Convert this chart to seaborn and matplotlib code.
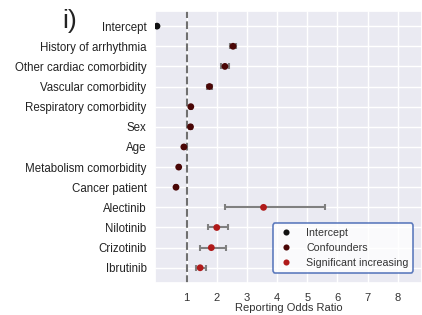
import matplotlib
matplotlib.use("Agg")
import matplotlib.pyplot as plt
import seaborn as sns
import pandas as pd
import numpy as np

categories = ["Intercept", "History of arrhythmia", "Other cardiac comorbidity",
              "Vascular comorbidity", "Respiratory comorbidity", "Sex", "Age",
              "Metabolism comorbidity", "Cancer patient", "Alectinib", "Nilotinib",
              "Crizotinib", "Ibrutinib"]
ror = [0.02, 2.54, 2.27, 1.76, 1.14, 1.13, 0.91, 0.74, 0.65, 3.55, 2.00, 1.82, 1.45]
ci_low = [0.01, 2.43, 2.15, 1.68, 1.10, 1.09, 0.88, 0.71, 0.62, 2.26, 1.70, 1.45, 1.30]
ci_high = [0.03, 2.65, 2.40, 1.84, 1.18, 1.17, 0.94, 0.77, 0.68, 5.60, 2.36, 2.30, 1.65]
groups = ["Intercept"] + ["Confounders"] * 8 + ["Significant increasing"] * 4
xticks = [1, 2, 3, 4, 5, 6, 7, 8]

df = pd.DataFrame({"cat": categories, "ror": ror, "lo": ci_low, "hi": ci_high, "group": groups})

sns.set_theme(style="darkgrid")
plt.rcParams["font.family"] = ["Liberation Sans", "DejaVu Sans"]

fig = plt.figure(figsize=(4.22, 3.15), dpi=100)
ax = fig.add_axes([0.367, 0.102, 0.633, 0.863])

ypos = np.arange(len(categories))
ax.errorbar(df["ror"], ypos,
            xerr=[df["ror"] - df["lo"], df["hi"] - df["ror"]],
            fmt="none", ecolor="#808080", elinewidth=1.5, capsize=2.5, capthick=1.5, zorder=2)

palette = {"Intercept": "#111111", "Confounders": "#4a0606", "Significant increasing": "#b01a1a"}
sns.scatterplot(data=df, x="ror", y="cat", hue="group", palette=palette, s=24,
                edgecolor="none", ax=ax, zorder=3)

ax.axvline(1, color="#707070", linestyle="--", linewidth=1.5, zorder=1)

ax.set_xlim(-0.05, 8.8)
ax.set_ylim(len(categories) - 0.25, -0.75)
ax.set_xticks(xticks)
ax.set_xticklabels([str(t) for t in xticks], fontsize=8, color="#333333")
ax.set_yticks(ypos)
ax.set_yticklabels(categories, fontsize=8.3, color="#222222")
ax.tick_params(axis="y", length=0, pad=6)
ax.tick_params(axis="x", length=0, pad=7)
ax.set_ylabel("")
ax.set_xlabel("Reporting Odds Ratio", fontsize=8, color="#333333", labelpad=0)

leg = ax.legend(loc="lower right", fontsize=7.7, frameon=True, facecolor="white",
                framealpha=0.8, edgecolor="#3a5fb0", markerscale=0.9,
                bbox_to_anchor=(0.988, 0.018), handletextpad=1.1, handlelength=1.6,
                borderpad=0.45, labelspacing=0.45)
leg.get_frame().set_linewidth(1.2)
for t in leg.get_texts():
    t.set_color("#333333")

fig.text(0.148, 0.97, "i)", fontsize=19, color="#222222", ha="left", va="top")

fig.savefig("out.png", dpi=100)
